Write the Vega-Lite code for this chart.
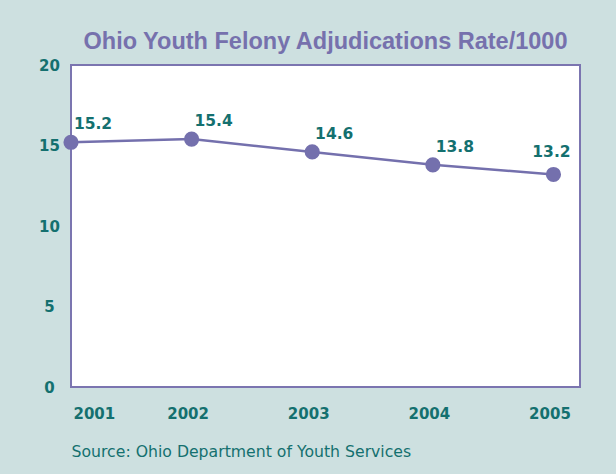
{
  "$schema": "https://vega.github.io/schema/vega-lite/v6.json",
  "width": 509,
  "height": 322,
  "autosize": {"type": "none"},
  "padding": {"left": 71, "top": 65, "right": 36, "bottom": 87},
  "background": "#cde0e0",
  "data": {"values": [
    {"year": 2001, "rate": 15.2},
    {"year": 2002, "rate": 15.4},
    {"year": 2003, "rate": 14.6},
    {"year": 2004, "rate": 13.8},
    {"year": 2005, "rate": 13.2}
  ]},
  "title": {
    "text": "Ohio Youth Felony Adjudications Rate/1000",
    "anchor": "middle",
    "font": "Liberation Sans",
    "fontSize": 23.5,
    "fontWeight": "bold",
    "color": "#7671ad",
    "offset": 5
  },
  "config": {
    "view": {"fill": "white", "stroke": "#7b75b0", "strokeWidth": 2},
    "axis": {"grid": false, "domain": false, "ticks": false, "tickSize": 0,
      "labelFont": "DejaVu Sans", "labelFontWeight": "bold", "labelFontSize": 15, "labelColor": "#14706f"}
  },
  "encoding": {
    "x": {"field": "year", "type": "quantitative",
      "scale": {"domain": [2001, 2005.22], "nice": false, "zero": false},
      "axis": {"values": [2001, 2002, 2003, 2004, 2005], "format": "d",
        "labelPadding": 19,
        "labelAlign": {"expr": "datum.value == 2001 ? 'left' : 'center'"},
        "labelOffset": {"expr": "datum.value == 2001 ? 2 : -4"},
        "labelFlush": false,
        "title": "Source: Ohio Department of Youth Services",
        "titleAnchor": "start", "titleAlign": "left", "titleFont": "DejaVu Sans",
        "titleFontWeight": "normal", "titleFontSize": 15.7, "titleColor": "#14706f",
        "titlePadding": 23}},
    "y": {"field": "rate", "type": "quantitative",
      "scale": {"domain": [0, 20], "nice": false},
      "axis": {"values": [0, 5, 10, 15, 20], "labelAlign": "center", "labelPadding": 22, "title": null}}
  },
  "layer": [
    {"mark": {"type": "line", "color": "#7470ad", "strokeWidth": 2.5}},
    {"mark": {"type": "point", "filled": true, "opacity": 1, "color": "#7470ad", "size": 230}},
    {"transform": [{"filter": "datum.year < 2005"}],
     "mark": {"type": "text", "font": "DejaVu Sans", "fontWeight": "bold", "fontSize": 15.5, "color": "#14706f", "dx": 22, "dy": -18},
     "encoding": {"text": {"field": "rate", "type": "quantitative", "format": ".1f"}}},
    {"transform": [{"filter": "datum.year == 2005"}],
     "mark": {"type": "text", "font": "DejaVu Sans", "fontWeight": "bold", "fontSize": 15.5, "color": "#14706f", "dx": -2, "dy": -22},
     "encoding": {"text": {"field": "rate", "type": "quantitative", "format": ".1f"}}}
  ]
}
